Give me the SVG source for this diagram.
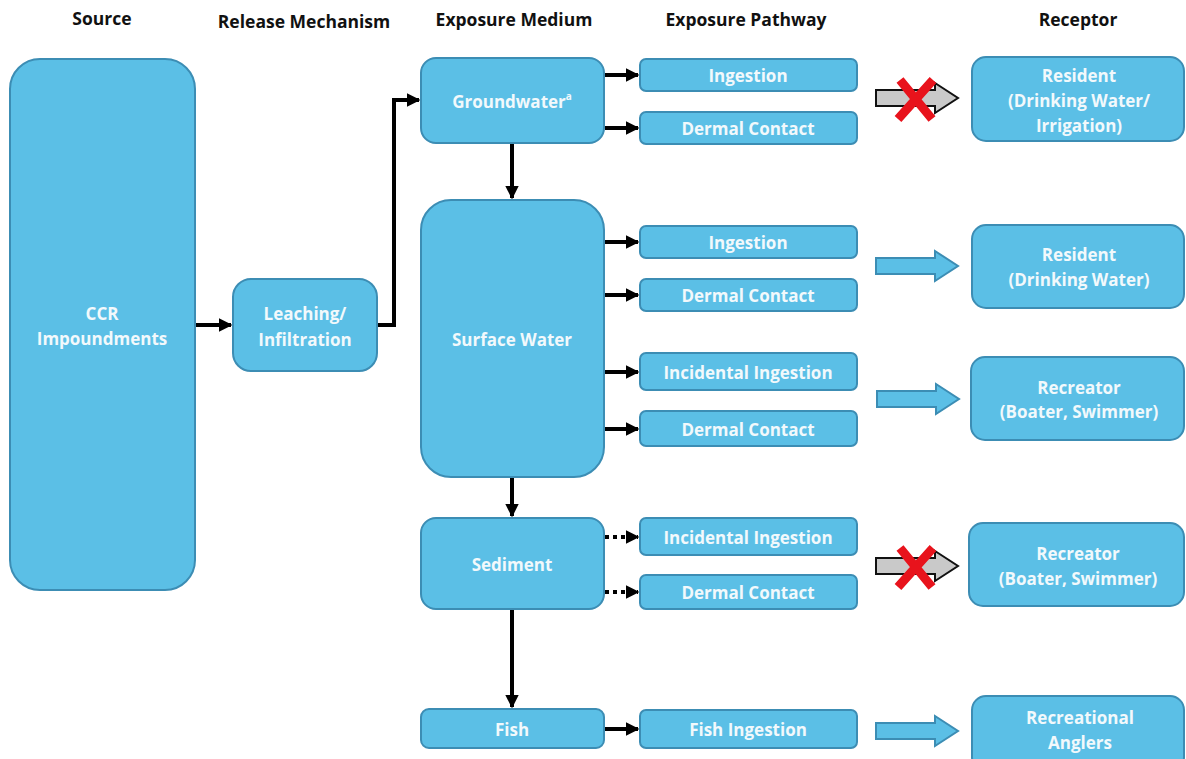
<svg xmlns="http://www.w3.org/2000/svg" width="1186" height="759" viewBox="0 0 1186 759">
  <defs>
    <style>
      .box { fill: #5bbfe6; stroke: #3c8db4; stroke-width: 2; }
      .lbl { font-family: "Open Sans", "Liberation Sans", sans-serif; font-weight: 700; font-size: 17px; fill: #f2f9fc; text-anchor: middle; dominant-baseline: central; }
      .hdr { font-family: "Open Sans", "Liberation Sans", sans-serif; font-weight: 700; font-size: 17.5px; fill: #111; text-anchor: middle; dominant-baseline: central; }
      .link { fill: none; stroke: #000; stroke-width: 4; }
      .dot { stroke-dasharray: 4 4; }
      .barrow { fill: #5bbfe6; stroke: #3c8db4; stroke-width: 2; }
      .garrow { fill: #c9c9c9; stroke: #111; stroke-width: 2; }
      .cross { stroke: #e8131c; stroke-width: 9; stroke-linecap: butt; fill: none; }
    </style>
    <marker id="head" viewBox="0 0 10 10" refX="9" refY="5" markerWidth="3.4" markerHeight="3.4" orient="auto" markerUnits="strokeWidth">
      <path d="M0,0 L10,5 L0,10 z" fill="#000"/>
    </marker>
    <path id="blockArrow" d="M0,-8 H59 V-15 L82,0 L59,15 V8 H0 Z"/>
  </defs>

  <rect width="1186" height="759" fill="#fff"/>

  <!-- column headers -->
  <g id="headers">
    <text class="hdr" x="102" y="18">Source</text>
    <text class="hdr" x="304" y="21">Release Mechanism</text>
    <text class="hdr" x="514" y="19">Exposure Medium</text>
    <text class="hdr" x="746" y="19">Exposure Pathway</text>
    <text class="hdr" x="1078" y="19">Receptor</text>
  </g>

  <!-- connectors -->
  <g id="connectors">
    <path class="link" d="M196,325 H231" marker-end="url(#head)"/>
    <path class="link" d="M378,325 H394 V100 H419" marker-end="url(#head)"/>
    <path class="link" d="M512,144 V198" marker-end="url(#head)"/>
    <path class="link" d="M512,478 V516" marker-end="url(#head)"/>
    <path class="link" d="M512,610 V707" marker-end="url(#head)"/>

    <path class="link" d="M605,75 H638" marker-end="url(#head)"/>
    <path class="link" d="M605,128 H638" marker-end="url(#head)"/>
    <path class="link" d="M605,242 H638" marker-end="url(#head)"/>
    <path class="link" d="M605,295 H638" marker-end="url(#head)"/>
    <path class="link" d="M605,372 H638" marker-end="url(#head)"/>
    <path class="link" d="M605,429 H638" marker-end="url(#head)"/>
    <path class="link dot" d="M605,537 H638" marker-end="url(#head)"/>
    <path class="link dot" d="M605,592 H638" marker-end="url(#head)"/>
    <path class="link" d="M605,729 H638" marker-end="url(#head)"/>

    <!-- pathway to receptor -->
    <use href="#blockArrow" class="garrow" transform="translate(876,98)"/>
    <use href="#blockArrow" class="barrow" transform="translate(876,266)"/>
    <use href="#blockArrow" class="barrow" transform="translate(877,399)"/>
    <use href="#blockArrow" class="garrow" transform="translate(876,566)"/>
    <use href="#blockArrow" class="barrow" transform="translate(876,731)"/>

    <!-- incomplete pathway marks -->
    <g id="cross-1">
      <path class="cross" d="M900,80 L932,119 M933,80 L898,119"/>
    </g>
    <g id="cross-2">
      <path class="cross" d="M900,548 L932,587 M933,548 L898,587"/>
    </g>
  </g>

  <!-- source -->
  <g id="ccr">
    <rect class="box" x="10" y="59" width="185" height="531" rx="30"/>
    <text class="lbl" x="102" y="313">CCR</text>
    <text class="lbl" x="102" y="338">Impoundments</text>
  </g>

  <!-- release mechanism -->
  <g id="leaching">
    <rect class="box" x="233" y="279" width="144" height="92" rx="18"/>
    <text class="lbl" x="305" y="313">Leaching/</text>
    <text class="lbl" x="305" y="339">Infiltration</text>
  </g>

  <!-- exposure media -->
  <g id="groundwater">
    <rect class="box" x="421" y="58" width="183" height="85" rx="15"/>
    <text class="lbl" x="512" y="101">Groundwater<tspan font-size="10" dy="-5">a</tspan></text>
  </g>
  <g id="surface-water">
    <rect class="box" x="421" y="200" width="183" height="277" rx="30"/>
    <text class="lbl" x="512" y="339">Surface Water</text>
  </g>
  <g id="sediment">
    <rect class="box" x="421" y="518" width="183" height="91" rx="15"/>
    <text class="lbl" x="512" y="564">Sediment</text>
  </g>
  <g id="fish">
    <rect class="box" x="421" y="709" width="183" height="39" rx="8"/>
    <text class="lbl" x="512" y="729">Fish</text>
  </g>

  <!-- exposure pathways -->
  <g id="gw-ingestion">
    <rect class="box" x="640" y="59" width="217" height="32" rx="6"/>
    <text class="lbl" x="748" y="75">Ingestion</text>
  </g>
  <g id="gw-dermal">
    <rect class="box" x="640" y="112" width="217" height="32" rx="6"/>
    <text class="lbl" x="748" y="128">Dermal Contact</text>
  </g>
  <g id="sw-ingestion">
    <rect class="box" x="640" y="226" width="217" height="32" rx="6"/>
    <text class="lbl" x="748" y="242">Ingestion</text>
  </g>
  <g id="sw-dermal">
    <rect class="box" x="640" y="279" width="217" height="32" rx="6"/>
    <text class="lbl" x="748" y="295">Dermal Contact</text>
  </g>
  <g id="sw-incidental">
    <rect class="box" x="640" y="353" width="217" height="37" rx="6"/>
    <text class="lbl" x="748" y="372">Incidental Ingestion</text>
  </g>
  <g id="sw-dermal-rec">
    <rect class="box" x="640" y="411" width="217" height="35" rx="6"/>
    <text class="lbl" x="748" y="429">Dermal Contact</text>
  </g>
  <g id="sed-incidental">
    <rect class="box" x="640" y="518" width="217" height="37" rx="6"/>
    <text class="lbl" x="748" y="537">Incidental Ingestion</text>
  </g>
  <g id="sed-dermal">
    <rect class="box" x="640" y="575" width="217" height="34" rx="6"/>
    <text class="lbl" x="748" y="592">Dermal Contact</text>
  </g>
  <g id="fish-ingestion">
    <rect class="box" x="640" y="710" width="217" height="38" rx="6"/>
    <text class="lbl" x="748" y="729">Fish Ingestion</text>
  </g>

  <!-- receptors -->
  <g id="resident-gw">
    <rect class="box" x="972" y="57" width="212" height="84" rx="14"/>
    <text class="lbl" x="1079" y="75">Resident</text>
    <text class="lbl" x="1079" y="100">(Drinking Water/</text>
    <text class="lbl" x="1079" y="125">Irrigation)</text>
  </g>
  <g id="resident-sw">
    <rect class="box" x="972" y="225" width="212" height="83" rx="14"/>
    <text class="lbl" x="1079" y="254">Resident</text>
    <text class="lbl" x="1079" y="279">(Drinking Water)</text>
  </g>
  <g id="recreator-sw">
    <rect class="box" x="971" y="357" width="213" height="83" rx="14"/>
    <text class="lbl" x="1079" y="387">Recreator</text>
    <text class="lbl" x="1079" y="411">(Boater, Swimmer)</text>
  </g>
  <g id="recreator-sed">
    <rect class="box" x="969" y="523" width="215" height="83" rx="14"/>
    <text class="lbl" x="1078" y="553">Recreator</text>
    <text class="lbl" x="1078" y="578">(Boater, Swimmer)</text>
  </g>
  <g id="anglers">
    <rect class="box" x="972" y="696" width="212" height="75" rx="14"/>
    <text class="lbl" x="1080" y="717">Recreational</text>
    <text class="lbl" x="1080" y="742">Anglers</text>
  </g>
</svg>
